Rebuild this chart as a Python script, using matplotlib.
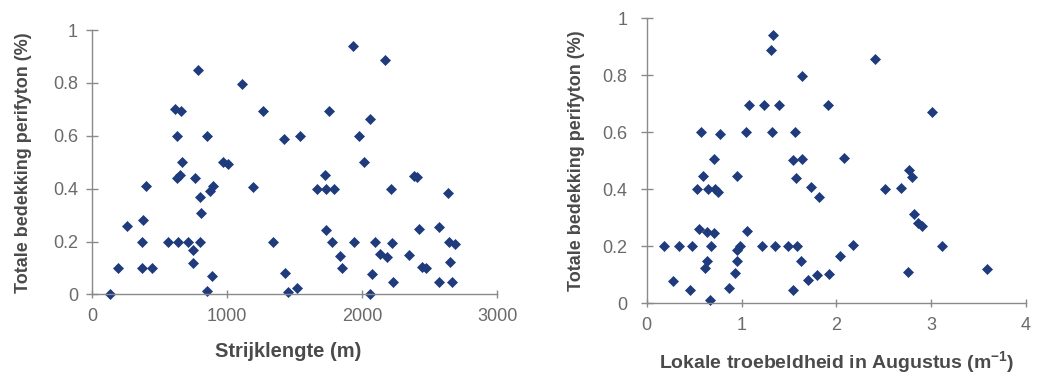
import matplotlib
matplotlib.use('Agg')
import matplotlib.pyplot as plt

plt.rcParams['font.family'] = ['Liberation Sans', 'DejaVu Sans']

# strijklengte (m) tegen totale bedekking perifyton
strijk_x = [133, 195, 257, 368, 442, 368, 380, 400, 566, 640, 714, 800, 751, 751,
            808, 800, 875, 899, 850, 887, 633, 652, 763, 665, 633, 850, 615, 658,
            788, 1110, 973, 1008, 1196, 1265, 1344, 1423, 1431, 1455, 1520, 1543,
            1666, 1732, 1789, 1727, 1732, 1757, 1777, 1838, 1851, 1930, 1937, 1979,
            2011, 2061, 2061, 2073, 2098, 2135, 2172, 2185, 2214, 2221, 2226, 2345,
            2382, 2407, 2419, 2444, 2474, 2572, 2572, 2637, 2642, 2691, 2654, 2666]
strijk_y = [0.00, 0.10, 0.26, 0.10, 0.10, 0.20, 0.28, 0.41, 0.20, 0.20, 0.20, 0.20, 0.17, 0.12,
            0.31, 0.37, 0.39, 0.41, 0.015, 0.07, 0.44, 0.45, 0.44, 0.50, 0.60, 0.60, 0.70, 0.695,
            0.85, 0.795, 0.50, 0.495, 0.405, 0.695, 0.20, 0.587, 0.082, 0.011, 0.025, 0.60,
            0.40, 0.40, 0.40, 0.45, 0.245, 0.695, 0.20, 0.146, 0.10, 0.94, 0.20, 0.60,
            0.50, 0.665, 0.00, 0.078, 0.20, 0.153, 0.887, 0.143, 0.40, 0.195, 0.048, 0.149,
            0.448, 0.443, 0.246, 0.105, 0.099, 0.254, 0.048, 0.383, 0.20, 0.19, 0.124, 0.048]

# lokale troebelheid in augustus (m-1) tegen totale bedekking perifyton
troeb_x = [0.18, 0.34, 0.475, 0.28, 0.46, 0.53, 0.65, 0.72, 0.755, 0.555, 0.633, 0.71,
           0.675, 0.633, 0.615, 0.668, 0.57, 0.773, 0.59, 0.71, 0.949, 0.872, 0.931, 0.949,
           0.956, 0.984, 1.055, 1.044, 1.083, 1.213, 1.241, 1.308, 1.336, 1.318, 1.353, 1.396,
           1.494, 1.547, 1.547, 1.565, 1.575, 1.589, 1.624, 1.635, 1.635, 1.705, 1.73, 1.80,
           1.821, 1.916, 1.926, 2.039, 2.084, 2.18, 2.408, 2.514, 2.683, 2.76, 2.767, 2.795,
           2.82, 2.865, 2.901, 3.013, 3.118, 3.593]
troeb_y = [0.20, 0.20, 0.20, 0.08, 0.047, 0.40, 0.40, 0.40, 0.39, 0.26, 0.25, 0.245,
           0.20, 0.148, 0.125, 0.01, 0.60, 0.593, 0.448, 0.505, 0.448, 0.053, 0.105, 0.148,
           0.187, 0.202, 0.254, 0.60, 0.696, 0.20, 0.696, 0.889, 0.941, 0.60, 0.20, 0.696,
           0.20, 0.503, 0.047, 0.60, 0.438, 0.20, 0.148, 0.506, 0.797, 0.082, 0.409, 0.099,
           0.374, 0.697, 0.102, 0.167, 0.51, 0.205, 0.857, 0.40, 0.406, 0.111, 0.468, 0.444,
           0.312, 0.281, 0.272, 0.67, 0.20, 0.12]

y_ticks = [0, 0.2, 0.4, 0.6, 0.8, 1]
y_ticklabels = ['0', '0.2', '0.4', '0.6', '0.8', '1']
ylabel = 'Totale bedekking perifyton (%)'

marker_color = '#1f3b7c'
axis_color = '#8a8a8a'
tick_color = '#6a6a6a'
label_color = '#4a4a4a'


def style_axes(ax, ytick_pad):
    for side in ['top', 'right']:
        ax.spines[side].set_visible(False)
    for side in ['left', 'bottom']:
        ax.spines[side].set_color(axis_color)
        ax.spines[side].set_linewidth(1.0)
    ax.set_ylim(0, 1)
    ax.set_yticks(y_ticks)
    ax.set_yticklabels(y_ticklabels)
    ax.tick_params(axis='both', direction='inout', color=axis_color,
                   labelcolor=tick_color, labelsize=13, width=1.0)
    ax.tick_params(axis='y', length=8, pad=ytick_pad)
    ax.tick_params(axis='x', length=6, pad=7)


fig = plt.figure(figsize=(10.37, 3.78), dpi=100)

ax1 = fig.add_axes([0.0887, 0.2209, 0.3906, 0.6997])
ax1.plot(strijk_x, strijk_y, 'D', color=marker_color, markersize=5.4,
         markeredgewidth=0.5, clip_on=False)
ax1.set_xlim(0, 3000)
ax1.set_xticks([0, 1000, 2000, 3000])
style_axes(ax1, 6)
ax1.set_xlabel('Strijklengte (m)', fontsize=14.5, fontweight='bold', color=label_color)
ax1.set_ylabel(ylabel, fontsize=13, fontweight='bold', color=label_color)
ax1.xaxis.set_label_coords(0.484, -0.18)
ax1.yaxis.set_label_coords(-0.148, 0.5)

ax2 = fig.add_axes([0.6236, 0.1976, 0.3658, 0.754])
ax2.plot(troeb_x, troeb_y, 'D', color=marker_color, markersize=5.4,
         markeredgewidth=0.5, clip_on=False)
ax2.set_xlim(0, 4)
ax2.set_xticks([0, 1, 2, 3, 4])
style_axes(ax2, 10)
ax2.set_xlabel('Lokale troebeldheid in Augustus (m$^{\\mathregular{-1}}$)', fontsize=14,
               fontweight='bold', color=label_color)
ax2.set_ylabel(ylabel, fontsize=13, fontweight='bold', color=label_color)
ax2.xaxis.set_label_coords(0.5, -0.16)
ax2.yaxis.set_label_coords(-0.163, 0.5)

fig.savefig('out.png', dpi=100)
